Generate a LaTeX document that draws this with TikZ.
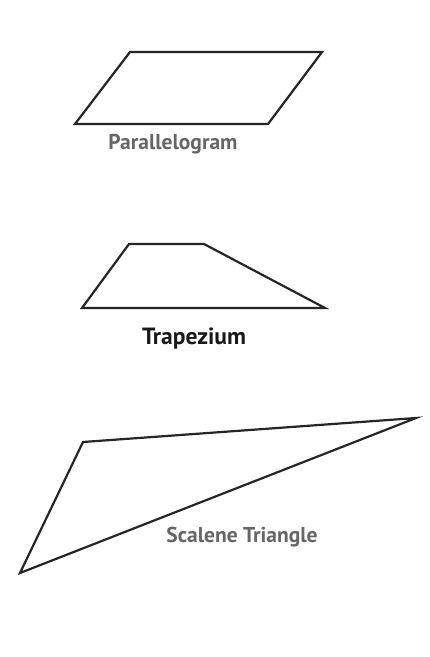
\documentclass[tikz,border=0pt]{standalone}
\usepackage{fontspec}
\setmainfont{PT Sans}
\begin{document}
\begin{tikzpicture}[x=1pt,y=-1pt,
  outline/.style={draw=black!85,line width=2.2pt,line join=miter},
  lbl/.style={font=\bfseries\fontsize{21.5}{24}\selectfont,text=black!60,inner sep=0pt},
  lblb/.style={font=\bfseries\fontsize{23.5}{26}\selectfont,text=black!90,inner sep=0pt}]
\useasboundingbox[fill=white] (0,0) rectangle (430,657);
\coordinate (p1) at (130,52);
\coordinate (p2) at (322,52);
\coordinate (p3) at (268,124);
\coordinate (p4) at (75,124);
\draw[outline] (p1) -- (p2) -- (p3) -- (p4) -- cycle;
\node[lbl] (pl) at (173,144) {Parallelogram};
\coordinate (t1) at (129,244);
\coordinate (t2) at (204,244);
\coordinate (t3) at (325,308);
\coordinate (t4) at (82,308);
\draw[outline] (t1) -- (t2) -- (t3) -- (t4) -- cycle;
\node[lblb] (tl) at (194,338) {Trapezium};
\coordinate (s1) at (83,442);
\coordinate (s2) at (416,418);
\coordinate (s3) at (20,573);
\draw[outline] (s1) -- (s2) -- (s3) -- cycle;
\node[lbl] (sl) at (242,537) {Scalene Triangle};
\end{tikzpicture}
\end{document}
